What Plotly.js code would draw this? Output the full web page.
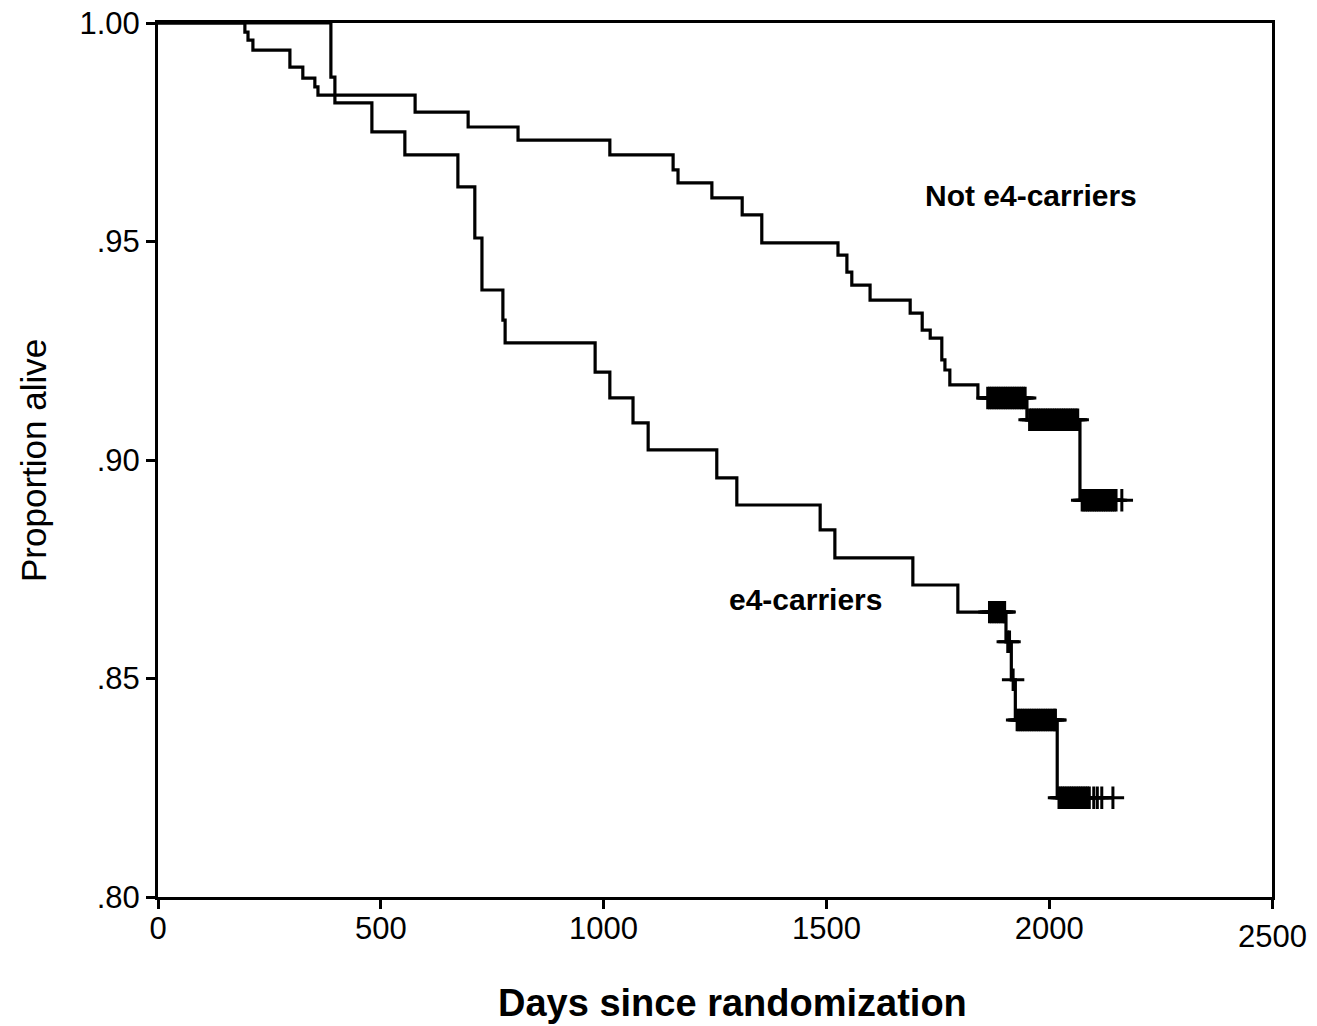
<!DOCTYPE html>
<html>
<head>
<meta charset="utf-8">
<script src="https://cdn.plot.ly/plotly-3.0.1.min.js"></script>
<style>html,body{margin:0;padding:0;background:#fff;}#chart{width:1317px;height:1026px;}</style>
</head>
<body>
<div id="chart"></div>
<script>
// Kaplan-Meier step data (days, proportion alive)
const notCarrierDays = [0,195,202,213,296,325,352,359,577,696,808,1014,1156,1167,1243,1311,1355,1526,1546,1557,1598,1688,1715,1733,1759,1766,1777,1840,1950,2069,2163];
const notCarrierSurv = [1,0.9979,0.9961,0.9938,0.9899,0.9874,0.9854,0.9835,0.9796,0.9762,0.9732,0.9698,0.9664,0.9634,0.9600,0.9561,0.9497,0.9469,0.9430,0.9400,0.9366,0.9336,0.9297,0.9279,0.9229,0.9206,0.9172,0.9142,0.9092,0.8908,0.8908];
const carrierDays = [0,388,397,480,554,673,711,727,774,779,981,1014,1066,1100,1254,1299,1486,1519,1694,1795,1903,1915,1924,2018,2143];
const carrierSurv = [1,0.9876,0.9817,0.9751,0.9698,0.9625,0.9508,0.9389,0.9320,0.9268,0.9201,0.9142,0.9085,0.9023,0.8959,0.8897,0.8840,0.8776,0.8714,0.8652,0.8584,0.8497,0.8405,0.8227,0.8227];
// censored observation times
const notCarrierCensor = [1862,1866,1870,1874,1878,1882,1886,1890,1894,1898,1902,1906,1910,1914,1918,1922,1926,1930,1934,1938,1942,1946,
  1956,1960,1964,1968,1972,1976,1980,1984,1988,1992,1996,2000,2004,2008,2012,2016,2020,2024,2028,2032,2036,2040,2044,2048,2052,2056,2060,2064,
  2074,2078,2082,2086,2090,2094,2098,2102,2106,2110,2114,2118,2122,2126,2130,2134,2138,2142,2146,2150,2163];
const carrierCensor = [1866,1870,1874,1878,1882,1886,1890,1894,1898,1900,1907,1911,1919,
  1928,1932,1936,1940,1944,1948,1952,1956,1960,1964,1968,1972,1976,1980,1984,1988,1992,1996,2000,2004,2008,2012,2014,
  2022,2026,2030,2034,2038,2042,2046,2050,2054,2058,2062,2066,2070,2074,2078,2082,2086,2090,2100,2108,2118,2143];
const yTickVals = [0.80,0.85,0.90,0.95,1.00];
const yTickText = ['.80','.85','.90','.95','1.00'];
const xTickVals = [0,500,1000,1500,2000,2500];
const xTickText = ['0','500','1000','1500','2000',''];
const groupLabels = ['Not e4-carriers','e4-carriers'];
const xTitle = 'Days since randomization';
const yTitle = 'Proportion alive';

function survAt(days, surv, t){
  let v = surv[0];
  for (let i=0;i<days.length;i++){ if (days[i] <= t) v = surv[i]; }
  return v;
}

const FONT = 'Liberation Sans, Arial, sans-serif';
const lineStyle = {color:'#000', width:3.2, shape:'hv'};
const censorMarker = {symbol:'cross-thin', size:16, color:'#000', line:{color:'#000', width:3}};

const traces = [
  {x:notCarrierDays, y:notCarrierSurv, mode:'lines', line:lineStyle, name:groupLabels[0], hoverinfo:'skip'},
  {x:carrierDays, y:carrierSurv, mode:'lines', line:lineStyle, name:groupLabels[1], hoverinfo:'skip'},
  {x:notCarrierCensor, y:notCarrierCensor.map(t=>survAt(notCarrierDays,notCarrierSurv,t)), mode:'markers', marker:censorMarker, hoverinfo:'skip'},
  {x:carrierCensor, y:carrierCensor.map(t=>survAt(carrierDays,carrierSurv,t)), mode:'markers', marker:censorMarker, hoverinfo:'skip'}
];

const layout = {
  width:1317, height:1026,
  margin:{l:158, r:45, t:23, b:129},
  paper_bgcolor:'#fff', plot_bgcolor:'#fff',
  showlegend:false,
  font:{family:FONT, color:'#000'},
  xaxis:{
    range:[0,2500], tickvals:xTickVals, ticktext:xTickText,
    showgrid:false, zeroline:false, showline:true, linecolor:'#000', linewidth:3, mirror:true,
    ticks:'outside', ticklen:9, tickwidth:3, tickcolor:'#000',
    ticklabelstandoff:-7,
    tickfont:{family:FONT, size:31, color:'#000'},
    automargin:false
  },
  yaxis:{
    range:[0.80,1.00], tickvals:yTickVals, ticktext:yTickText,
    showgrid:false, zeroline:false, showline:true, linecolor:'#000', linewidth:3, mirror:true,
    ticks:'outside', ticklen:9, tickwidth:3, tickcolor:'#000',
    tickfont:{family:FONT, size:31, color:'#000'},
    automargin:false
  },
  annotations:[
    {x:1959, y:0.9606, xref:'x', yref:'y', text:'<b>'+groupLabels[0]+'</b>', showarrow:false, font:{family:FONT, size:30, color:'#000'}},
    {x:1454, y:0.8680, xref:'x', yref:'y', text:'<b>'+groupLabels[1]+'</b>', showarrow:false, font:{family:FONT, size:30, color:'#000'}},
    {x:2500, y:0, xref:'x', yref:'paper', yanchor:'top', yshift:-20, text:String(xTickVals[5]), showarrow:false, font:{family:FONT, size:31, color:'#000'}},
    {x:0.516, y:-0.1213, xref:'paper', yref:'paper', xanchor:'center', yanchor:'middle', text:'<b>'+xTitle+'</b>', showarrow:false, font:{family:FONT, size:38, color:'#000'}},
    {x:-0.1113, y:0.4989, xref:'paper', yref:'paper', xanchor:'center', yanchor:'middle', textangle:-90, text:yTitle, showarrow:false, font:{family:FONT, size:35, color:'#000'}}
  ]
};

Plotly.newPlot('chart', traces, layout, {displayModeBar:false, staticPlot:true});
</script>
</body>
</html>
